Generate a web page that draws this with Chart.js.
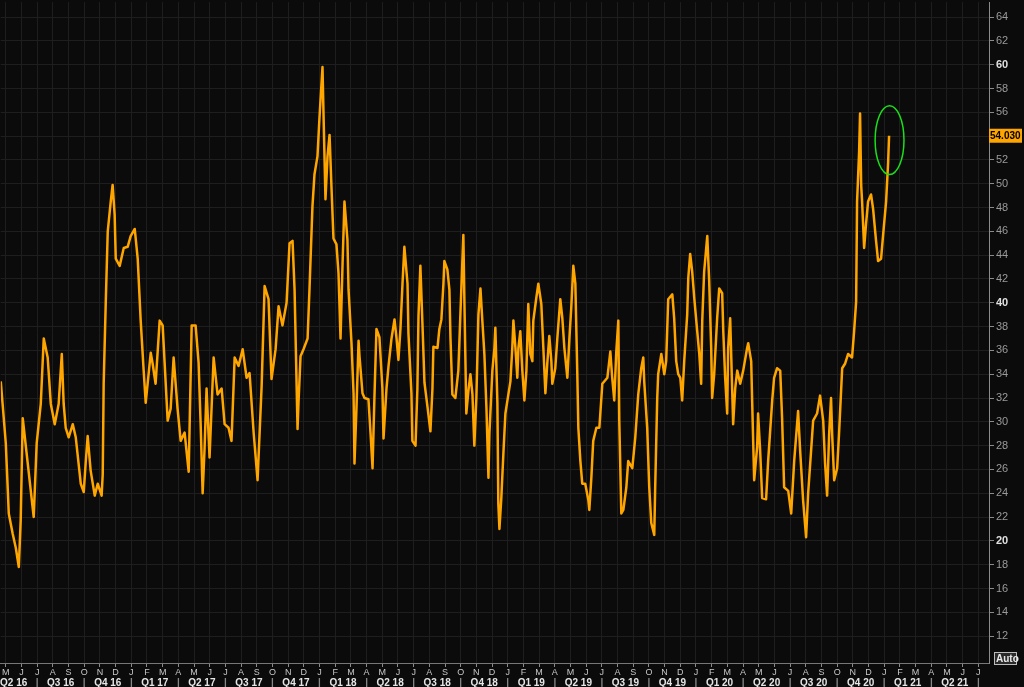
<!DOCTYPE html>
<html>
<head>
<meta charset="utf-8">
<script src="https://cdn.jsdelivr.net/npm/chart.js@4.4.0/dist/chart.umd.min.js"></script>
<style>
  html, body { margin: 0; padding: 0; background: #0b0b0b; }
  #wrap { width: 1024px; height: 687px; }
</style>
</head>
<body>
<div id="wrap"><canvas id="myChart" width="1024" height="687"></canvas></div>
<script>
// x = months since Jan 2016 (fractional), y = index level
var dates = [
  3.68, 4.00, 4.13, 4.19, 4.44, 4.64, 4.83, 4.95, 5.08, 5.78, 5.97, 6.23, 6.42, 6.67, 6.87, 7.12,
  7.37, 7.57, 7.69, 7.82, 8.01, 8.27, 8.46, 8.78, 8.97, 9.09, 9.22, 9.41, 9.67, 9.86, 10.11, 10.18,
  10.24, 10.37, 10.50, 10.69, 10.81, 10.94, 11.01, 11.26, 11.52, 11.77, 11.96, 12.22, 12.41, 12.60, 12.79, 12.92,
  13.24, 13.36, 13.55, 13.81, 14.00, 14.32, 14.51, 14.70, 14.95, 15.15, 15.40, 15.66, 15.85, 16.10, 16.29, 16.42,
  16.55, 16.67, 16.80, 16.99, 17.25, 17.50, 17.76, 17.95, 18.20, 18.39, 18.59, 18.84, 19.10, 19.35, 19.54, 19.80,
  20.05, 20.31, 20.50, 20.75, 20.94, 21.20, 21.39, 21.64, 21.90, 22.09, 22.28, 22.41, 22.60, 22.66, 22.79, 22.98,
  23.24, 23.36, 23.55, 23.68, 23.87, 24.00, 24.19, 24.26, 24.38, 24.51, 24.64, 24.76, 24.89, 25.08, 25.21, 25.34,
  25.47, 25.59, 25.78, 25.85, 26.04, 26.17, 26.23, 26.36, 26.49, 26.55, 26.74, 26.87, 27.12, 27.25, 27.38, 27.50,
  27.63, 27.82, 28.01, 28.08, 28.27, 28.40, 28.59, 28.78, 28.91, 29.03, 29.16, 29.29, 29.41, 29.61, 29.67, 29.86,
  29.92, 30.12, 30.24, 30.31, 30.43, 30.56, 30.69, 30.88, 31.07, 31.20, 31.26, 31.52, 31.64, 31.77, 31.90, 31.96,
  32.15, 32.28, 32.35, 32.47, 32.66, 32.85, 32.98, 33.17, 33.24, 33.36, 33.49, 33.62, 33.75, 33.87, 34.00, 34.13,
  34.26, 34.38, 34.51, 34.64, 34.77, 34.83, 35.02, 35.15, 35.21, 35.34, 35.40, 35.47, 35.59, 35.72, 35.85, 35.98,
  36.17, 36.29, 36.36, 36.49, 36.61, 36.68, 36.80, 36.93, 37.06, 37.19, 37.31, 37.44, 37.57, 37.63, 37.82, 37.95,
  38.14, 38.27, 38.40, 38.52, 38.65, 38.78, 38.84, 39.03, 39.16, 39.35, 39.48, 39.61, 39.80, 39.93, 40.05, 40.18,
  40.31, 40.43, 40.50, 40.63, 40.75, 40.94, 41.14, 41.20, 41.33, 41.45, 41.65, 41.84, 42.03, 42.35, 42.54, 42.66,
  42.79, 42.92, 43.05, 43.11, 43.24, 43.37, 43.56, 43.68, 43.94, 44.13, 44.32, 44.51, 44.64, 44.70, 44.89, 45.02,
  45.15, 45.34, 45.40, 45.53, 45.59, 45.79, 45.98, 46.10, 46.23, 46.49, 46.61, 46.74, 46.87, 47.00, 47.12, 47.25,
  47.44, 47.51, 47.63, 47.76, 47.89, 48.08, 48.21, 48.33, 48.40, 48.52, 48.72, 48.84, 48.97, 49.03, 49.16, 49.35,
  49.48, 49.67, 49.74, 49.86, 49.99, 50.05, 50.18, 50.31, 50.37, 50.50, 50.63, 50.82, 51.01, 51.26, 51.33, 51.52,
  51.58, 51.71, 51.90, 51.96, 52.09, 52.22, 52.47, 52.60, 52.86, 52.98, 53.17, 53.37, 53.49, 53.62, 53.88, 54.07,
  54.26, 54.51, 54.64, 54.83, 55.02, 55.15, 55.34, 55.47, 55.72, 55.91, 56.11, 56.23, 56.36, 56.49, 56.61, 56.68,
  56.81, 57.00, 57.12, 57.32, 57.51, 57.70, 57.95, 58.08, 58.21, 58.27, 58.40, 58.46, 58.53, 58.59, 58.72, 58.84,
  58.97, 59.16, 59.29, 59.48, 59.61, 59.80, 59.93, 60.12, 60.25, 60.31
];
var values = [
  33.4, 28.2, 24.2, 22.3, 20.6, 19.4, 17.8, 21.7, 30.3, 22.0, 28.2, 31.5, 37.0, 35.4, 31.5, 29.8,
  31.5, 35.7, 31.5, 29.5, 28.7, 29.8, 28.7, 24.8, 24.1, 26.5, 28.8, 25.9, 23.8, 24.8, 23.8, 25.6,
  33.2, 39.9, 46.0, 48.5, 49.9, 47.4, 43.7, 43.1, 44.6, 44.7, 45.6, 46.2, 43.7, 38.5, 34.3, 31.6,
  35.8, 34.9, 33.2, 38.5, 38.1, 30.1, 31.1, 35.4, 31.1, 28.4, 29.1, 25.8, 38.1, 38.1, 35.0, 29.9,
  24.0, 27.7, 32.8, 27.0, 35.4, 32.3, 32.8, 29.8, 29.5, 28.4, 35.4, 34.7, 36.1, 33.7, 34.1, 29.1,
  25.1, 33.0, 41.4, 40.3, 33.6, 36.1, 39.7, 38.1, 40.0, 45.0, 45.2, 41.1, 29.4, 31.6, 35.5, 36.1,
  37.0, 41.1, 48.1, 50.8, 52.3, 55.6, 59.8, 55.6, 48.7, 52.3, 54.1, 49.8, 45.4, 44.9, 42.5, 37.0,
  43.3, 48.5, 45.3, 41.1, 36.6, 32.4, 26.5, 31.3, 36.8, 35.5, 32.4, 32.0, 31.9, 29.1, 26.1, 32.0,
  37.8, 37.1, 32.8, 28.6, 32.8, 34.7, 37.0, 38.6, 37.0, 35.2, 37.8, 41.6, 44.7, 41.6, 37.4, 32.4,
  28.4, 28.0, 32.8, 38.9, 43.1, 38.3, 33.3, 31.3, 29.2, 32.8, 36.3, 36.2, 37.8, 38.6, 41.6, 43.5,
  42.8, 41.1, 37.0, 32.3, 32.0, 34.3, 39.0, 45.7, 39.9, 30.7, 32.6, 34.0, 32.3, 28.0, 32.0, 39.0,
  41.2, 38.5, 35.7, 31.2, 25.3, 29.0, 34.3, 36.2, 37.9, 31.6, 23.1, 21.0, 23.6, 27.3, 30.7, 31.8,
  33.4, 36.2, 38.5, 36.2, 33.7, 36.2, 37.6, 34.3, 31.8, 34.3, 39.9, 35.7, 35.1, 38.5, 40.4, 41.6,
  39.9, 36.2, 32.4, 34.9, 37.2, 35.1, 33.2, 34.5, 37.0, 40.3, 38.7, 36.2, 33.7, 37.0, 39.6, 43.1,
  41.6, 34.3, 29.5, 26.7, 24.8, 24.8, 23.4, 22.6, 25.3, 28.4, 29.5, 29.5, 33.2, 33.7, 35.9, 33.7,
  31.8, 35.9, 38.5, 30.1, 22.3, 22.6, 24.5, 26.7, 26.1, 28.7, 32.3, 34.5, 35.4, 33.4, 29.5, 24.5,
  21.5, 20.5, 24.5, 32.0, 34.0, 35.7, 34.0, 35.1, 40.3, 40.7, 38.7, 35.1, 34.0, 33.7, 31.8, 35.1,
  39.0, 42.1, 44.1, 42.6, 40.4, 37.6, 35.7, 33.2, 38.5, 42.6, 45.6, 41.9, 36.2, 32.0, 34.0, 38.7,
  41.2, 40.8, 37.6, 33.7, 30.7, 36.2, 38.7, 32.6, 29.8, 32.8, 34.3, 33.2, 34.3, 36.2, 36.6, 35.1,
  31.8, 25.1, 27.9, 30.7, 27.6, 23.6, 23.5, 26.7, 31.8, 33.7, 34.5, 34.3, 30.3, 24.5, 24.2, 22.3,
  26.7, 30.9, 27.6, 23.4, 20.3, 24.0, 27.6, 30.1, 30.7, 32.2, 30.1, 26.5, 23.8, 29.0, 32.0, 29.0,
  25.1, 26.1, 29.0, 34.5, 34.9, 35.7, 35.4, 37.6, 40.1, 48.5, 52.7, 55.9, 49.9, 48.5, 44.6, 46.6,
  48.5, 49.1, 47.9, 45.2, 43.5, 43.7, 45.7, 48.5, 51.8, 54.03
];

var monthLetters = ['J', 'F', 'M', 'A', 'M', 'J', 'J', 'A', 'S', 'O', 'N', 'D'];
var monthTicks = [4, 5, 6, 7, 8, 9, 10, 11, 12, 13, 14, 15, 16, 17, 18, 19, 20, 21, 22, 23, 24, 25, 26, 27,
  28, 29, 30, 31, 32, 33, 34, 35, 36, 37, 38, 39, 40, 41, 42, 43, 44, 45, 46, 47, 48, 49, 50, 51,
  52, 53, 54, 55, 56, 57, 58, 59, 60, 61, 62, 63, 64, 65, 66];
var quarterLabels = ['Q2 16', 'Q3 16', 'Q4 16', 'Q1 17', 'Q2 17', 'Q3 17', 'Q4 17', 'Q1 18', 'Q2 18',
  'Q3 18', 'Q4 18', 'Q1 19', 'Q2 19', 'Q3 19', 'Q4 19', 'Q1 20', 'Q2 20', 'Q3 20', 'Q4 20', 'Q1 21', 'Q2 21'];
var quarterStarts = [3, 6, 9, 12, 15, 18, 21, 24, 27, 30, 33, 36, 39, 42, 45, 48, 51, 54, 57, 60, 63];
var yTicks = [12, 14, 16, 18, 20, 22, 24, 26, 28, 30, 32, 34, 36, 38, 40, 42, 44, 46, 48, 50, 52, 54, 56, 58, 60, 62, 64];
var boldTicks = [20, 40, 60];

var xMin = 3.68, xMax = 66.68;
var yMin = 9.74, yMax = 65.26;
var circle = { x: 60.34, y: 53.66, rx: 0.92, ry: 2.89 };

var ORANGE = '#ffa500';
var GRID = '#1e1e1e';
var FONT = '"Liberation Sans", Arial, sans-serif';

var points = [];
for (var i = 0; i < dates.length; i++) points.push({ x: dates[i], y: values[i] });

// quarter axis: centre labels plus '|' separators at boundaries
var quarterTicks = [];
for (var q = 0; q < quarterStarts.length; q++) {
  if (q > 0) quarterTicks.push({ value: quarterStarts[q], label: '|' });
  quarterTicks.push({ value: quarterStarts[q] + 1.5, label: quarterLabels[q] });
}
quarterTicks.push({ value: 66, label: '|' });

var decor = {
  id: 'decor',
  beforeDraw: function(chart) {
    var ctx = chart.ctx;
    ctx.save();
    ctx.fillStyle = '#0b0b0b';
    ctx.fillRect(0, 0, chart.width, chart.height);
    ctx.restore();
  },
  afterDatasetsDraw: function(chart) {
    var ctx = chart.ctx, xs = chart.scales.x, ys = chart.scales.y;
    var cx = xs.getPixelForValue(circle.x), cy = ys.getPixelForValue(circle.y);
    var rx = Math.abs(xs.getPixelForValue(circle.x + circle.rx) - cx);
    var ry = Math.abs(ys.getPixelForValue(circle.y + circle.ry) - cy);
    ctx.save();
    ctx.strokeStyle = '#19e019';
    ctx.lineWidth = 1.5;
    ctx.beginPath();
    ctx.ellipse(cx, cy, rx, ry, 0, 0, Math.PI * 2);
    ctx.stroke();
    ctx.restore();
  },
  afterDraw: function(chart) {
    var ctx = chart.ctx, ys = chart.scales.y, area = chart.chartArea;
    var last = values[values.length - 1];
    var py = ys.getPixelForValue(last);
    ctx.save();
    ctx.fillStyle = ORANGE;
    ctx.fillRect(area.right, py - 7, 33, 14);
    ctx.fillStyle = '#000';
    ctx.font = 'bold 10px ' + FONT;
    ctx.textBaseline = 'middle';
    ctx.textAlign = 'left';
    ctx.fillText(last.toFixed(3), area.right + 1, py + 0.5);
    // Auto box
    ctx.fillStyle = '#2a2a2a';
    ctx.fillRect(area.right + 5, area.bottom - 11, 23, 13);
    ctx.strokeStyle = '#bbb';
    ctx.lineWidth = 1;
    ctx.strokeRect(area.right + 5.5, area.bottom - 10.5, 22, 12);
    ctx.fillStyle = '#e8e8e8';
    ctx.font = 'bold 10px ' + FONT;
    ctx.fillText('Auto', area.right + 7, area.bottom - 4);
    ctx.restore();
  }
};

var myChart = new Chart(document.getElementById('myChart').getContext('2d'), {
  type: 'line',
  data: {
    datasets: [{
      data: points,
      borderColor: ORANGE,
      borderWidth: 2.5,
      borderJoinStyle: 'round',
      pointRadius: 0,
      tension: 0,
      fill: false
    }]
  },
  options: {
    responsive: false,
    animation: false,
    layout: { padding: 0 },
    plugins: { legend: { display: false }, tooltip: { enabled: false } },
    scales: {
      x: {
        type: 'linear', position: 'bottom', min: xMin, max: xMax,
        afterBuildTicks: function(scale) { scale.ticks = monthTicks.map(function(v) { return { value: v }; }); },
        afterFit: function(scale) { scale.height = 14; },
        grid: { color: GRID, tickColor: '#8a8a8a', tickLength: 4 },
        border: { color: '#777' },
        ticks: {
          autoSkip: false, maxRotation: 0, padding: 0,
          color: '#c8c8c8',
          font: { family: FONT, size: 9 },
          callback: function(v) { return monthLetters[v % 12]; }
        }
      },
      xq: {
        type: 'linear', position: 'bottom', min: xMin, max: xMax,
        afterBuildTicks: function(scale) { scale.ticks = quarterTicks.map(function(t) { return { value: t.value }; }); },
        afterFit: function(scale) { scale.height = 10; },
        grid: { drawOnChartArea: false, drawTicks: false },
        border: { display: false },
        ticks: {
          autoSkip: false, maxRotation: 0, padding: 0,
          color: function(c) { return quarterTicks[c.index] && quarterTicks[c.index].label === '|' ? '#888' : '#e6e6e6'; },
          font: { family: FONT, size: 10, weight: 'bold' },
          callback: function(v, idx) { return quarterTicks[idx].label; }
        }
      },
      y: {
        type: 'linear', position: 'right', min: yMin, max: yMax,
        afterBuildTicks: function(scale) { scale.ticks = yTicks.map(function(v) { return { value: v }; }); },
        afterFit: function(scale) { scale.width = 35; },
        grid: { color: GRID, tickColor: '#8a8a8a', tickLength: 5 },
        border: { color: '#8a8a8a' },
        ticks: {
          padding: 2,
          color: function(c) { return c.tick && boldTicks.indexOf(c.tick.value) >= 0 ? '#e0e0e0' : '#9a9a9a'; },
          font: function(c) {
            var b = c.tick && boldTicks.indexOf(c.tick.value) >= 0;
            return { family: FONT, size: 11, weight: b ? 'bold' : 'normal', lineHeight: 0.01 };
          },
          callback: function(v) { return v; }
        }
      }
    }
  },
  plugins: [decor]
});
</script>
</body>
</html>
